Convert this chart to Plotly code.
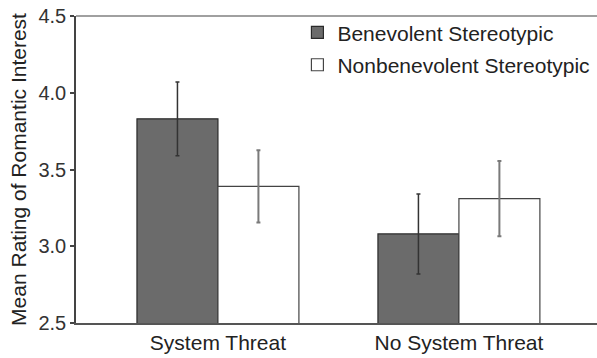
import plotly.graph_objects as go

categories = ["System Threat", "No System Threat"]
benevolent = [3.83, 3.08]
benevolent_err = [0.24, 0.26]
nonbenevolent = [3.39, 3.31]
nonbenevolent_err = [0.235, 0.245]
y_ticks = [2.5, 3.0, 3.5, 4.0, 4.5]

FONT = "Liberation Sans, Arial, sans-serif"

fig = go.Figure()
fig.add_trace(go.Bar(
    x=categories, y=benevolent, name="Benevolent Stereotypic",
    legendgroup="a",
    marker=dict(color="#6b6b6b", line=dict(color="#2a2a2a", width=1.2)),
    error_y=dict(type="data", array=benevolent_err, color="#333333", thickness=1.5, width=2),
))
fig.add_trace(go.Bar(
    x=categories, y=nonbenevolent, name="Nonbenevolent Stereotypic",
    legendgroup="b",
    marker=dict(color="#ffffff", line=dict(color="#444444", width=1.2)),
    error_y=dict(type="data", array=nonbenevolent_err, color="#7a7a7a", thickness=2, width=2),
))

fig.update_layout(
    width=597, height=358,
    margin=dict(l=76, r=0, t=16, b=35),
    paper_bgcolor="white", plot_bgcolor="white",
    font=dict(family=FONT, size=21, color="#222222"),
    barmode="group", bargap=0.328, bargroupgap=0,
    showlegend=True,
    legend=dict(
        x=0.425, y=1.012, xanchor="left", yanchor="top",
        bgcolor="rgba(0,0,0,0)", font=dict(size=21, color="#222222"),
        traceorder="grouped", tracegroupgap=2,
    ),
    xaxis=dict(
        type="category", range=[-0.589, 1.573],
        showline=True, linecolor="#555555", linewidth=1.5,
        ticks="", showgrid=False, zeroline=False,
        tickfont=dict(size=21, color="#222222"),
    ),
    yaxis=dict(
        range=[2.5, 4.5], tickvals=y_ticks, tickformat=".1f",
        showline=True, linecolor="#444444", linewidth=1.5,
        ticks="outside", ticklen=4, tickcolor="#444444", tickwidth=1.5,
        showgrid=False, zeroline=False,
        tickfont=dict(size=20, color="#333333"),
        title=dict(text="Mean Rating of Romantic Interest", font=dict(size=21, color="#222222"), standoff=6),
    ),
    shapes=[dict(type="line", xref="paper", yref="paper", x0=0, x1=1, y0=1, y1=1,
                 line=dict(color="#a0a0a0", width=2))],
)

fig.write_html(
    "out.html",
    config={"displayModeBar": False},
    post_script="document.body.style.margin='0';document.body.style.overflow='hidden';",
)
